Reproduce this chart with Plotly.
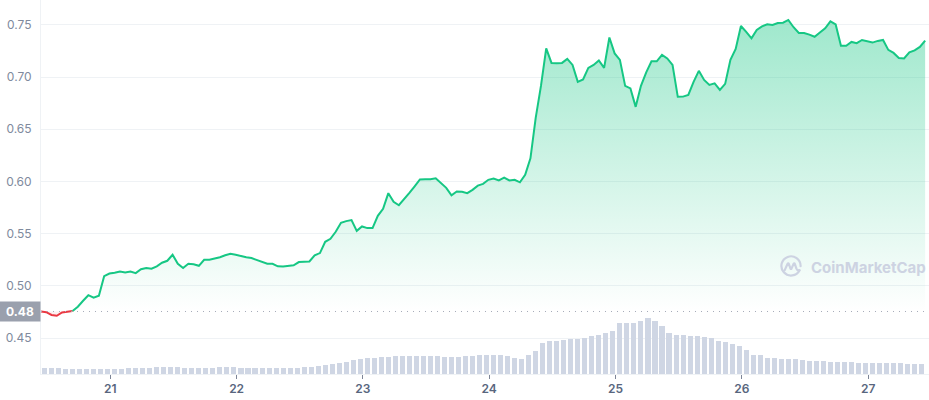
import base64
import pandas as pd
import plotly.graph_objects as go

# ---------------- data ----------------
START = "2021-10-20 10:50"

price = [
    0.4754, 0.4747, 0.4721, 0.4713, 0.4745, 0.4752, 0.4758, 0.4800, 0.4857, 0.4910,
    0.4886, 0.4905, 0.5092, 0.5118, 0.5125, 0.5138, 0.5128, 0.5137, 0.5122, 0.5159,
    0.5170, 0.5164, 0.5187, 0.5221, 0.5240, 0.5298, 0.5211, 0.5170, 0.5211, 0.5207,
    0.5192, 0.5250, 0.5250, 0.5261, 0.5274, 0.5293, 0.5307, 0.5298, 0.5283, 0.5273,
    0.5266, 0.5248, 0.5226, 0.5211, 0.5211, 0.5187, 0.5186, 0.5192, 0.5197, 0.5228,
    0.5228, 0.5233, 0.5293, 0.5314, 0.5422, 0.5451, 0.5518, 0.5604, 0.5620, 0.5630,
    0.5527, 0.5569, 0.5553, 0.5553, 0.5671, 0.5738, 0.5888, 0.5805, 0.5772, 0.5829,
    0.5891, 0.5954, 0.6019, 0.6022, 0.6022, 0.6030, 0.5987, 0.5939, 0.5867, 0.5904,
    0.5901, 0.5888, 0.5920, 0.5960, 0.5977, 0.6016, 0.6029, 0.6011, 0.6037, 0.6010,
    0.6016, 0.5992, 0.6064, 0.6222, 0.6609, 0.6916, 0.7275, 0.7136, 0.7133, 0.7136,
    0.7174, 0.7117, 0.6954, 0.6978, 0.7088, 0.7117, 0.7160, 0.7088, 0.7380, 0.7227,
    0.7165, 0.6916, 0.6892, 0.6715, 0.6916, 0.7045, 0.7151, 0.7151, 0.7213, 0.7179,
    0.7117, 0.6811, 0.6813, 0.6830, 0.6954, 0.7060, 0.6973, 0.6925, 0.6940, 0.6878,
    0.6935, 0.7165, 0.7270, 0.7490, 0.7433, 0.7371, 0.7452, 0.7486, 0.7507, 0.7500,
    0.7519, 0.7522, 0.7548, 0.7478, 0.7423, 0.7423, 0.7407, 0.7387, 0.7428, 0.7468,
    0.7534, 0.7505, 0.7301, 0.7301, 0.7337, 0.7325, 0.7356, 0.7342, 0.7331, 0.7347,
    0.7356, 0.7261, 0.7232, 0.7184, 0.7179, 0.7237, 0.7256, 0.7289, 0.7350,
]

volume_musd = [
    2.4, 2.6, 2.6, 2.2, 2.0, 2.0, 2.0, 2.0, 2.0, 2.0,
    2.0, 2.2, 2.3, 2.3, 2.4, 2.6, 2.7, 2.7, 2.8, 2.8,
    2.6, 2.6, 2.6, 2.6, 2.6, 2.8, 2.8, 2.8, 2.6, 2.4,
    2.4, 2.4, 2.4, 2.4, 2.4, 2.4, 2.6, 2.8, 3.0, 3.2,
    3.6, 4.0, 4.6, 5.0, 5.6, 6.0, 6.4, 6.6, 6.8, 7.0,
    7.2, 7.2, 7.4, 7.4, 7.2, 7.2, 7.2, 7.0, 6.8, 7.0,
    7.2, 7.4, 7.6, 7.6, 7.6, 7.6, 7.4, 6.4, 6.2, 7.6,
    9.3, 12.3, 13.2, 13.2, 13.8, 13.9, 13.9, 14.4, 15.2, 15.6,
    16.4, 17.3, 20.3, 20.5, 20.5, 21.4, 22.3, 21.2, 19.2, 16.4,
    15.6, 15.6, 15.2, 15.4, 14.9, 14.3, 13.2, 12.7, 12.2, 11.4,
    9.6, 7.6, 7.6, 6.6, 6.4, 6.0, 6.0, 6.0, 5.6, 5.4,
    5.2, 5.2, 5.0, 4.8, 4.8, 4.8, 4.6, 4.6, 4.6, 4.4,
    4.4, 4.4, 4.4, 4.2, 4.2, 4.2,
]

day_ticks = ["2021-10-21", "2021-10-22", "2021-10-23", "2021-10-24",
             "2021-10-25", "2021-10-26", "2021-10-27"]
day_labels = ["21", "22", "23", "24", "25", "26", "27"]
price_ticks = [0.45, 0.50, 0.55, 0.60, 0.65, 0.70, 0.75]

# ---------------- derived ----------------
times = pd.date_range(START, periods=len(price), freq="h")
vol_times = pd.date_range(pd.Timestamp(START) + pd.Timedelta(minutes=40),
                          periods=len(volume_musd), freq="80min")
open_price = price[0]

GREEN = "#16c784"
RED = "#ea3943"
split = 6  # last index below the opening price

fig = go.Figure()

# volume bars
fig.add_trace(go.Bar(
    x=vol_times, y=volume_musd, yaxis="y2",
    marker=dict(color="#cfd6e4", line=dict(width=0)),
    width=80 * 60 * 1000 * 0.72, hoverinfo="skip",
))

# red part (below opening price)
fig.add_trace(go.Scatter(
    x=times[:split + 1], y=[open_price] * (split + 1), mode="lines",
    line=dict(width=0), hoverinfo="skip",
))
fig.add_trace(go.Scatter(
    x=times[:split + 1], y=price[:split + 1], mode="lines",
    line=dict(color=RED, width=2), fill="tonexty",
    fillcolor="rgba(234,57,67,0.08)",
))

# green part
fig.add_trace(go.Scatter(
    x=times[split:], y=[open_price] * (len(price) - split), mode="lines",
    line=dict(width=0), hoverinfo="skip",
))
fig.add_trace(go.Scatter(
    x=times[split:], y=price[split:], mode="lines",
    line=dict(color=GREEN, width=2), fill="tonexty",
    fillgradient=dict(
        type="vertical", start=open_price, stop=0.76,
        colorscale=[[0, "rgba(22,199,132,0.0)"], [1, "rgba(22,199,132,0.42)"]],
    ),
))

# dotted opening price line
x_end = pd.Timestamp(START) + pd.Timedelta(hours=168, minutes=44)
fig.add_shape(type="line", xref="paper", x0=0, x1=1, yref="y",
              y0=open_price, y1=open_price,
              line=dict(color="#a6acb9", width=1, dash="1px,5px"))

# opening price label
fig.add_annotation(
    xref="paper", x=0, xanchor="right", yref="y", y=open_price, yanchor="middle",
    text=f"<b>{open_price:.2f}</b>", showarrow=False,
    font=dict(family="Inter", size=12, color="white"),
    bgcolor="#9aa0ad", width=36, height=15, borderpad=2,
)

# watermark
logo_svg = (
    "<svg xmlns='http://www.w3.org/2000/svg' viewBox='0 0 24 24'>"
    "<path d='M20.6 15.2 A9.6 9.6 0 1 1 21.6 11.2' fill='none' stroke='#cdd3e2' "
    "stroke-width='2.2' stroke-linecap='round'/>"
    "<path d='M5.6 15.4 L8.6 8.8 Q9.2 7.8 9.8 8.9 L11.4 13.4 Q12 14.6 12.6 13.4 "
    "L14.6 8.8 Q15.2 7.8 15.8 8.9 L17.4 13.6 Q18.2 15.6 20.4 15.4' fill='none' "
    "stroke='#cdd3e2' stroke-width='2.2' stroke-linecap='round' stroke-linejoin='round'/>"
    "</svg>"
)
fig.add_layout_image(
    source="data:image/svg+xml;base64," + base64.b64encode(logo_svg.encode()).decode(),
    xref="paper", yref="paper", x=(779 - 41) / 888, y=(374 - 255) / 374,
    sizex=24 / 888, sizey=24 / 374, xanchor="left", yanchor="top",
    sizing="contain", layer="above", opacity=1,
)
fig.add_annotation(
    xref="paper", yref="paper", x=(809 - 41) / 888, y=(374 - 267) / 374,
    xanchor="left", yanchor="middle", showarrow=False,
    text="CoinMarketCap",
    font=dict(family="Inter", size=15, color="#cdd3e2", weight=700),
)

fig.update_layout(
    width=929, height=400,
    margin=dict(l=41, r=0, t=0, b=26),
    paper_bgcolor="white", plot_bgcolor="white",
    showlegend=False, bargap=0,
    xaxis=dict(
        type="date", range=[times[0], x_end],
        tickvals=day_ticks, ticktext=day_labels,
        ticks="outside", ticklen=4, tickcolor="#7d8597", tickwidth=1,
        showgrid=False, showline=True, linecolor="#eff2f5", linewidth=1,
        tickfont=dict(family="Inter", size=12, color="#58667e", weight=600),
        zeroline=False,
    ),
    yaxis=dict(
        range=[0.4155, 0.7739], tickvals=price_ticks, tickformat=".2f",
        showgrid=True, gridcolor="#eff2f5", gridwidth=1,
        showline=True, linecolor="#eff2f5", linewidth=1,
        ticks="", ticklabelstandoff=6,
        tickfont=dict(family="Inter", size=12, color="#808a9d"),
        zeroline=False,
    ),
    yaxis2=dict(
        overlaying="y", range=[0, 149.6], visible=False, showgrid=False,
    ),
)

fig.write_html("out.html")
